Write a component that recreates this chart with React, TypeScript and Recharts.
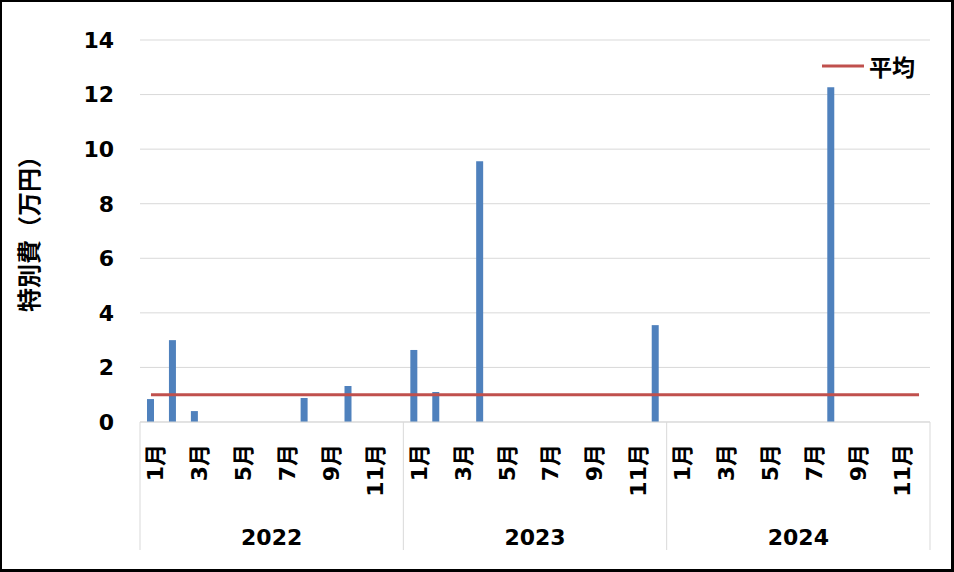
import { ComposedChart, Bar, Line, XAxis, YAxis, CartesianGrid } from 'recharts'

const YEARS = ['2022', '2023', '2024']
const MONTHS = ['1月', '2月', '3月', '4月', '5月', '6月', '7月', '8月', '9月', '10月', '11月', '12月']

// 特別費 (万円), month by month
const SPEND_2022 = [0.84, 3.0, 0.4, 0, 0, 0, 0, 0.88, 0, 1.32, 0, 0]
const SPEND_2023 = [2.64, 1.1, 0, 9.56, 0, 0, 0, 0, 0, 0, 0, 3.55]
const SPEND_2024 = [0, 0, 0, 0, 0, 0, 0, 12.27, 0, 0, 0, 0]
const AVERAGE = 1.0

const Y_TICKS = [0, 2, 4, 6, 8, 10, 12, 14]

const W = 954
const H = 572
const LEFT = 140
const RIGHT = 24
const TOP = 40
const X_AXIS_H = 150

const FONT = '"DejaVu Sans", "Noto Sans CJK JP", sans-serif'
const GRID = '#d9d9d9'

const spend = [SPEND_2022, SPEND_2023, SPEND_2024]
const data = YEARS.flatMap((year, yi) =>
    MONTHS.map((month, mi) => ({
        key: `${year}-${month}`,
        year,
        month,
        value: spend[yi][mi],
        avg: AVERAGE,
    }))
)

const step = (W - LEFT - RIGHT) / data.length

function MonthTick(props: any) {
    const { x, y, payload } = props
    const i = payload.index
    const row = data[i]
    const mi = i % 12
    return (
        <g>
            {mi % 2 === 0 && (
                <text
                    x={x + 5}
                    y={y + 22}
                    transform={`rotate(-90, ${x + 5}, ${y + 22})`}
                    textAnchor="end"
                    dominantBaseline="central"
                    fontFamily={FONT}
                    fontWeight="bold"
                    fontSize={22}
                    fill="#000"
                >
                    {row.month}
                </text>
            )}
            {mi === 0 && <line x1={x - step / 2} x2={x - step / 2} y1={y} y2={y + 128} stroke={GRID} />}
            {i === data.length - 1 && (
                <line x1={x + step / 2} x2={x + step / 2} y1={y} y2={y + 128} stroke={GRID} />
            )}
            {mi === 6 && (
                <text
                    x={x - step / 2}
                    y={y + 123}
                    textAnchor="middle"
                    fontFamily={FONT}
                    fontWeight="bold"
                    fontSize={22}
                    fill="#000"
                >
                    {row.year}
                </text>
            )}
        </g>
    )
}

export default function App() {
    return (
        <div style={{ position: 'absolute', left: 0, top: 0, width: W, height: H, background: '#fff' }}>
            <ComposedChart
                width={W}
                height={H}
                data={data}
                margin={{ top: TOP, right: RIGHT, bottom: 0, left: 0 }}
            >
                <CartesianGrid vertical={false} stroke={GRID} strokeWidth={1} />
                <XAxis
                    dataKey="key"
                    interval={0}
                    height={X_AXIS_H}
                    tickLine={false}
                    tickSize={0}
                    tickMargin={0}
                    axisLine={{ stroke: GRID }}
                    tick={<MonthTick />}
                />
                <YAxis
                    width={LEFT}
                    domain={[0, 14]}
                    ticks={Y_TICKS}
                    axisLine={false}
                    tickLine={false}
                    tickSize={0}
                    tickMargin={26}
                    tick={{ fontFamily: FONT, fontWeight: 'bold', fontSize: 22, fill: '#000' }}
                    label={{
                        content: ({ viewBox }: any) => {
                            const cy = viewBox.y + viewBox.height / 2 - 3
                            return (
                                <text
                                    x={30}
                                    y={cy}
                                    transform={`rotate(-90, 30, ${cy})`}
                                    textAnchor="middle"
                                    dominantBaseline="central"
                                    fontFamily={FONT}
                                    fontWeight="bold"
                                    fontSize={24}
                                    fill="#000"
                                >
                                    特別費（万円）
                                </text>
                            )
                        },
                    }}
                />
                <Bar dataKey="value" fill="#4F81BD" barSize={7} isAnimationActive={false} />
                <Line
                    type="linear"
                    dataKey="avg"
                    stroke="#C0504D"
                    strokeWidth={3}
                    dot={false}
                    activeDot={false}
                    isAnimationActive={false}
                />
            </ComposedChart>
            <div
                style={{
                    position: 'absolute',
                    left: 822,
                    top: 49,
                    display: 'flex',
                    alignItems: 'center',
                    fontFamily: FONT,
                    fontWeight: 'bold',
                    fontSize: 23,
                    color: '#000',
                }}
            >
                <svg width={42} height={6} style={{ marginRight: 5 }}>
                    <line x1={0} x2={42} y1={3} y2={3} stroke="#C0504D" strokeWidth={3} />
                </svg>
                <span>平均</span>
            </div>
            <div
                style={{
                    position: 'absolute',
                    left: 0,
                    top: 0,
                    width: W,
                    height: H,
                    boxSizing: 'border-box',
                    borderStyle: 'solid',
                    borderColor: '#000',
                    borderWidth: '2px 3px 3px 2px',
                    pointerEvents: 'none',
                }}
            />
        </div>
    )
}
